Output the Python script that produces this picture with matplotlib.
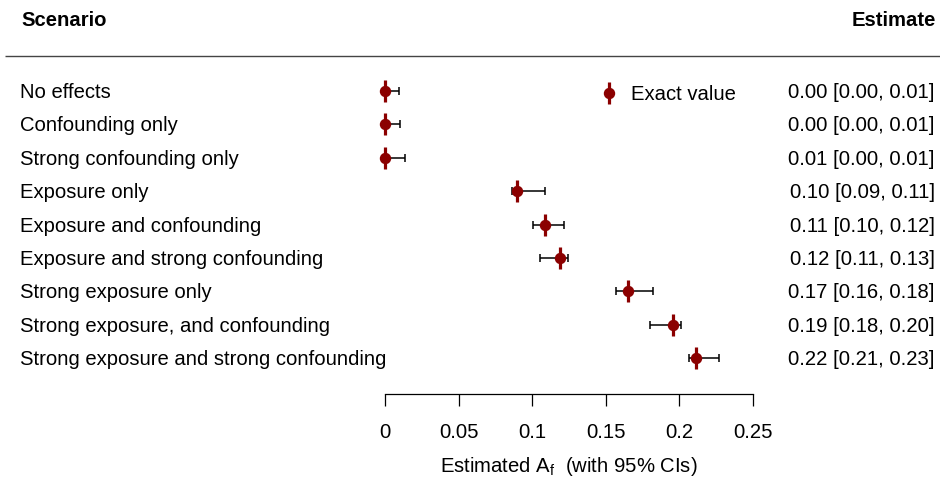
import matplotlib
matplotlib.use("Agg")
import matplotlib.pyplot as plt
from matplotlib.lines import Line2D
from matplotlib.legend_handler import HandlerTuple

plt.rcParams['font.family'] = ['Liberation Sans', 'DejaVu Sans']

scenarios = [
    "No effects",
    "Confounding only",
    "Strong confounding only",
    "Exposure only",
    "Exposure and confounding",
    "Exposure and strong confounding",
    "Strong exposure only",
    "Strong exposure, and confounding",
    "Strong exposure and strong confounding",
]
exact = [0.000, 0.000, 0.000, 0.0897, 0.109, 0.1187, 0.165, 0.1957, 0.2115]
lower = [0.000, 0.000, 0.000, 0.086, 0.1003, 0.105, 0.1567, 0.180, 0.2068]
upper = [0.0095, 0.0102, 0.0138, 0.109, 0.1215, 0.1245, 0.182, 0.201, 0.2269]
estimate_text = [
    "0.00 [0.00, 0.01]", "0.00 [0.00, 0.01]", "0.01 [0.00, 0.01]",
    "0.10 [0.09, 0.11]", "0.11 [0.10, 0.12]", "0.12 [0.11, 0.13]",
    "0.17 [0.16, 0.18]", "0.19 [0.18, 0.20]", "0.22 [0.21, 0.23]",
]
xticks = [0, 0.05, 0.1, 0.15, 0.2, 0.25]
xtick_labels = ["0", "0.05", "0.1", "0.15", "0.2", "0.25"]

W, H = 940, 478
fig = plt.figure(figsize=(W / 100, H / 100), dpi=100)
ax = fig.add_axes([0, 0, 1, 1])

px_per_unit = 368 / 0.25
x0_px = 385
row0_px = 91
row_px = 33.4
ax.set_xlim(-x0_px / px_per_unit, (W - x0_px) / px_per_unit)
ax.set_ylim((H - row0_px) / row_px, -row0_px / row_px)

rows = list(range(len(scenarios)))
red = "#8B0000"

mid = [(l + u) / 2 for l, u in zip(lower, upper)]
ax.errorbar(mid, rows, xerr=[[m - l for m, l in zip(mid, lower)],
                              [u - m for m, u in zip(mid, upper)]],
            fmt='none', ecolor='black', elinewidth=1.1, capsize=2.6,
            capthick=1.1, zorder=2)
ax.plot(exact, rows, linestyle='none', marker='|', markersize=15.5,
        markeredgewidth=2.3, color=red, zorder=3)
ax.plot(exact, rows, linestyle='none', marker='o', markersize=7.2,
        color=red, zorder=4)

fs = 14.6
toff = 1.5 / row_px
for r, name, est in zip(rows, scenarios, estimate_text):
    ax.text(-(x0_px - 20) / px_per_unit, r + toff, name, ha='left', va='center', fontsize=fs)
    ax.text((935 - x0_px) / px_per_unit, r + toff, est, ha='right', va='center', fontsize=fs)

# headers
hy = (20 - row0_px) / row_px
ax.text(-(x0_px - 21) / px_per_unit, hy, "Scenario", ha='left', va='center',
        fontsize=fs, fontweight='bold')
ax.text((936 - x0_px) / px_per_unit, hy, "Estimate", ha='right', va='center',
        fontsize=fs, fontweight='bold')
ly = (56 - row0_px) / row_px
ax.plot([-(x0_px - 5) / px_per_unit, (W - x0_px) / px_per_unit], [ly, ly],
        color='#444444', lw=1.0, solid_capstyle='butt')

# x axis
for s in ['top', 'left', 'right']:
    ax.spines[s].set_visible(False)
ax.spines['bottom'].set_position(('data', (394 - row0_px) / row_px))
ax.spines['bottom'].set_bounds(0, 0.25)
ax.spines['bottom'].set_linewidth(0.9)
ax.set_xticks(xticks)
ax.set_xticklabels(xtick_labels, fontsize=fs)
ax.tick_params(axis='x', direction='out', length=8.5, width=0.9, pad=12.5)
ax.set_yticks([])
ax.text(0.125, (466 - row0_px) / row_px, r"Estimated A$_\mathregular{f}$  (with 95% CIs)",
        ha='center', va='center', fontsize=fs)

# legend
h1 = Line2D([], [], linestyle='none', marker='|', markersize=15.5,
            markeredgewidth=2.3, color=red)
h2 = Line2D([], [], linestyle='none', marker='o', markersize=7.2, color=red)
ax.legend(handles=[(h1, h2)], labels=["Exact value"],
          handler_map={tuple: HandlerTuple(ndivide=1, pad=0)},
          loc='center left', bbox_to_anchor=(597 / W, 1 - 95 / H),
          frameon=False, fontsize=fs, handlelength=1.2, handletextpad=0.5,
          borderpad=0, borderaxespad=0)

fig.savefig("out.png", dpi=100)
